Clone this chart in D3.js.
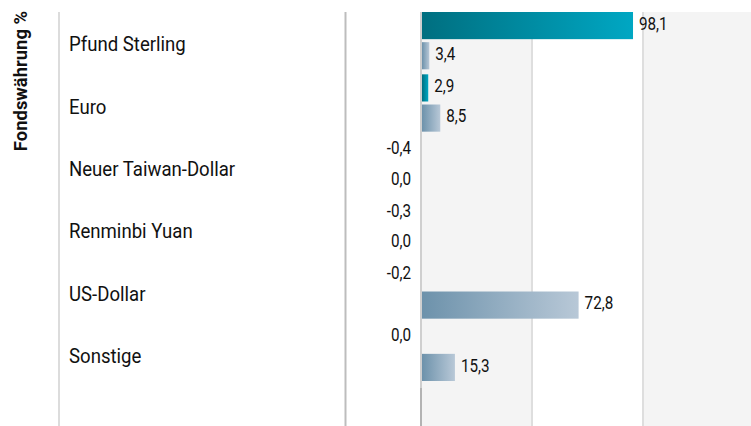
<!DOCTYPE html>
<html>
<head>
<meta charset="utf-8">
<script src="https://cdn.jsdelivr.net/npm/d3@7"></script>
<style>
  body { margin: 0; background: #fff; }
  text { font-family: Roboto, "Noto Sans", sans-serif; fill: #111; }
</style>
</head>
<body>
<svg id="chart"></svg>
<script>
// categories and the two series (fund / benchmark)
var categories = ["Pfund Sterling", "Euro", "Neuer Taiwan-Dollar", "Renminbi Yuan", "US-Dollar", "Sonstige"];
var fundValues = [98.1, 2.9, -0.4, -0.3, -0.2, 0.0];
var indexValues = [3.4, 8.5, 0.0, 0.0, 72.8, 15.3];
var seriesKeys = ["fund", "index"];
var gridBands = [0, 1, 2];
var axisTitle = "Fondswährung %";

var width = 751, height = 426;
var plotTop = 12, rowsBottom = 386;

var svg = d3.select("#chart").attr("width", width).attr("height", height);

var defs = svg.append("defs");
function grad(id, c1, c2) {
  var g = defs.append("linearGradient").attr("id", id)
    .attr("x1", "0%").attr("x2", "100%").attr("y1", "0%").attr("y2", "0%");
  g.append("stop").attr("offset", "0%").attr("stop-color", c1);
  g.append("stop").attr("offset", "100%").attr("stop-color", c2);
}
grad("gFund", "#006f80", "#00a7c3");
grad("gIndex", "#6d92ab", "#b8c8d7");

var x = d3.scaleLinear().domain([0, 100]).range([422, 637.1]);

var y0 = d3.scaleBand().domain(categories).range([plotTop, rowsBottom]);
var y1 = d3.scaleBand().domain(seriesKeys).range([0, y0.bandwidth() - 5]).paddingInner(0.1);

// alternating background bands
var bands = d3.scaleBand().domain(gridBands).range([421, 754]);
svg.selectAll("rect.band").data(gridBands).enter().append("rect")
  .attr("class", "band")
  .attr("x", function(d) { return bands(d); })
  .attr("y", plotTop)
  .attr("width", bands.bandwidth())
  .attr("height", height - plotTop)
  .attr("fill", function(d) { return d % 2 == 0 ? "#f4f4f4" : "#fff"; });

// grid lines between bands
svg.selectAll("line.grid").data(gridBands.slice(1)).enter().append("line")
  .attr("x1", function(d) { return bands(d); })
  .attr("x2", function(d) { return bands(d); })
  .attr("y1", plotTop).attr("y2", height)
  .attr("stroke", "#dedede").attr("stroke-width", 2);

// flatten data
var rows = [];
categories.forEach(function(c, i) {
  rows.push({cat: c, key: "fund", v: fundValues[i]});
  rows.push({cat: c, key: "index", v: indexValues[i]});
});

svg.selectAll("rect.bar").data(rows).enter().append("rect")
  .attr("class", "bar")
  .attr("x", function(d) { return x(Math.min(0, d.v)); })
  .attr("y", function(d) { return y0(d.cat) + y1(d.key); })
  .attr("width", function(d) { return Math.abs(x(d.v) - x(0)); })
  .attr("height", y1.bandwidth())
  .attr("fill", function(d) { return d.key == "fund" ? "url(#gFund)" : "url(#gIndex)"; });

// zero axis line
svg.append("line")
  .attr("x1", x(0) - 1).attr("x2", x(0) - 1)
  .attr("y1", plotTop).attr("y2", rowsBottom + 2)
  .attr("stroke", "#cfcfcf").attr("stroke-width", 2);
svg.append("line")
  .attr("x1", x(0) - 1).attr("x2", x(0) - 1)
  .attr("y1", rowsBottom + 2).attr("y2", height)
  .attr("stroke", "#b3b3b3").attr("stroke-width", 2);

// left divider lines
svg.append("line").attr("x1", 59).attr("x2", 59).attr("y1", plotTop).attr("y2", height)
  .attr("stroke", "#dcdcdc").attr("stroke-width", 2);
svg.append("line").attr("x1", 345.5).attr("x2", 345.5).attr("y1", plotTop).attr("y2", height)
  .attr("stroke", "#bdbdbd").attr("stroke-width", 2);

var fmt = function(v) { return d3.format(".1f")(v).replace(".", ",").replace("−", "-"); };

// value labels
svg.selectAll("text.val").data(rows).enter().append("text")
  .attr("class", "val")
  .attr("transform", function(d) {
    var tx = d.v > 0 ? x(d.v) + 6 : x(0) - 11;
    var ty = y0(d.cat) + y1(d.key) + y1.bandwidth() / 2 - 2;
    return "translate(" + tx + "," + ty + ") scale(0.87,1)";
  })
  .attr("dy", "0.35em")
  .attr("text-anchor", function(d) { return d.v > 0 ? "start" : "end"; })
  .style("font-size", "17.5px")
  .text(function(d) { return fmt(d.v); });

// category labels
svg.selectAll("text.cat").data(categories).enter().append("text")
  .attr("class", "cat")
  .attr("transform", function(d) {
    return "translate(69," + (y0(d) + y0.bandwidth() / 2 + 1) + ") scale(0.93,1)";
  })
  .attr("dy", "0.35em")
  .style("font-size", "20px")
  .text(function(d) { return d; });

// axis title
svg.append("text")
  .attr("transform", "translate(27,81) rotate(-90) scale(0.97,1)")
  .attr("text-anchor", "middle")
  .style("font-size", "19px")
  .style("font-weight", "bold")
  .text(axisTitle);
</script>
</body>
</html>
